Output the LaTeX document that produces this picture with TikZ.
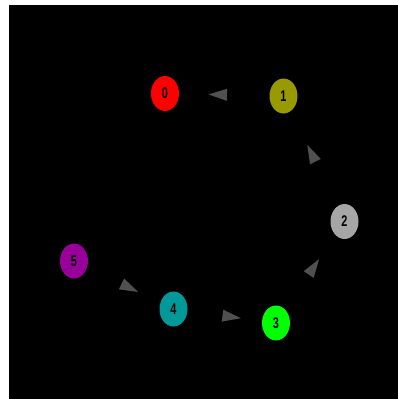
\documentclass[tikz,border=0pt]{standalone}
\usepackage{fontspec}
\setmainfont{Liberation Sans}
\usetikzlibrary{shapes.geometric,decorations.markings}
\definecolor{c0}{HTML}{FF0000}
\definecolor{c1}{HTML}{999900}
\definecolor{c2}{HTML}{A6A6A6}
\definecolor{c3}{HTML}{00FF00}
\definecolor{c4}{HTML}{009999}
\definecolor{c5}{HTML}{990099}
\definecolor{headgray}{HTML}{505050}
\tikzset{
  vert/.style={ellipse, minimum width=28pt, minimum height=35pt, inner sep=0pt,
    text=black, font=\fontsize{15.5}{15.5}\selectfont\bfseries},
  link/.style={draw=black, line width=0.5pt,
    postaction={decorate, decoration={markings,
      mark=at position 0.47 with {\fill[headgray] (0pt,6pt) -- (18.5pt,0pt) -- (0pt,-6pt) -- cycle;}}}}
}
\newcommand{\dg}[1]{\scalebox{0.7}[1]{#1}}
\begin{document}
\begin{tikzpicture}[x=1pt,y=-1pt]
\useasboundingbox (0,0) rectangle (398,399);
\fill[white] (0,0) rectangle (398,399);
\fill[black] (9,5) rectangle (398,399);
\node[vert, fill=c0] (n0) at (165,93.5) {\dg{0}};
\node[vert, fill=c1] (n1) at (283.5,96) {\dg{1}};
\node[vert, fill=c2] (n2) at (344.5,221.5) {\dg{2}};
\node[vert, fill=c3] (n3) at (276,323) {\dg{3}};
\node[vert, fill=c4] (n4) at (173.5,309) {\dg{4}};
\node[vert, fill=c5] (n5) at (74,261) {\dg{5}};
\draw[link] (n1) -- (n0);
\draw[link] (n2) -- (n1);
\draw[link] (n3) -- (n2);
\draw[link] (n4) -- (n3);
\draw[link] (n5) -- (n4);
\end{tikzpicture}
\end{document}
